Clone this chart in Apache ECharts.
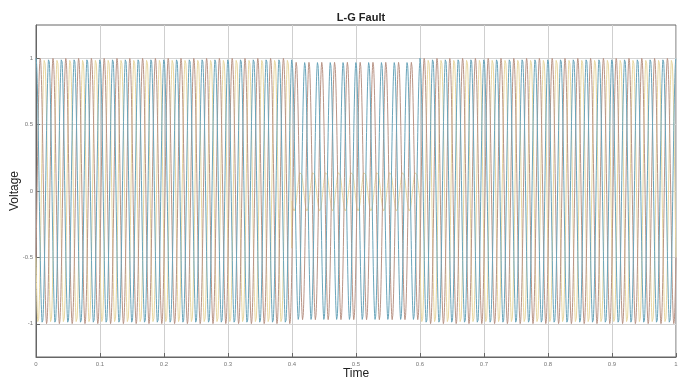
<!DOCTYPE html>
<html>
<head>
<meta charset="utf-8">
<script src="https://cdn.jsdelivr.net/npm/echarts@6/dist/echarts.min.js"></script>
<style>
  html, body { margin: 0; padding: 0; background: #fff; }
</style>
</head>
<body>
<div id="chart" style="width: 683px;height: 379px"></div>
<script>
// values
const freqHz = 50
const segmentTimes = [0, 0.4, 0.6, 1]      // pre-fault, L-G fault, post-fault
const phaseNames = ['Vc', 'Vb', 'Va']
const phaseColors = ['#e8d7a0', '#b99486', '#6aa5ba']
const phaseShiftDeg = [-150, -30, 90]
const phaseAmps = [
  [1, 0.15, 1],   // faulted phase (yellow) collapses
  [1, 0.97, 1],
  [1, 0.97, 1]
]
const yTickValues = [-1, -0.5, 0, 0.5, 1]
const samplesPerSecond = 4000

// build waveform samples
const buildPhase = (p) => {
  let pts = []
  let n = samplesPerSecond * segmentTimes[segmentTimes.length - 1]
  for (let i = 0; i <= n; i++) {
    let t = i / samplesPerSecond
    let seg = 0
    for (let s = 1; s < segmentTimes.length - 1; s++) {
      if (t >= segmentTimes[s]) seg = s
    }
    let v = phaseAmps[p][seg] * Math.sin(2 * Math.PI * freqHz * t + phaseShiftDeg[p] * Math.PI / 180)
    pts.push([t, v])
  }
  return pts
}

let series = []
for (let p = 0; p < phaseNames.length; p++) {
  series.push({
    name: phaseNames[p],
    type: 'line',
    data: buildPhase(p),
    symbol: 'none',
    animation: false,
    lineStyle: { color: phaseColors[p], width: 1 }
  })
}

let option = {
  backgroundColor: '#fff',
  title: {
    text: 'L-G Fault',
    left: 356,
    textAlign: 'center',
    top: 7,
    textStyle: { fontFamily: 'Arial', fontSize: 11, fontWeight: 'bold', color: '#222' }
  },
  grid: {
    left: 36, right: 7, top: 25, bottom: 22,
    outerBoundsMode: 'none',
    containLabel: false,
    show: true, borderColor: '#666', borderWidth: 1
  },
  xAxis: {
    type: 'value',
    min: 0, max: 1, interval: 0.1,
    name: 'Time',
    nameLocation: 'middle',
    nameGap: 11,
    nameMoveOverlap: false,
    nameTextStyle: { fontFamily: 'Arial', fontSize: 12, color: '#222' },
    axisLine: { onZero: false, lineStyle: { color: '#666' } },
    axisTick: { inside: true, length: 4, lineStyle: { color: '#666' } },
    axisLabel: { fontSize: 6, color: '#777', margin: 4 },
    splitLine: { lineStyle: { color: '#cfcfcf', width: 1 } }
  },
  yAxis: {
    type: 'value',
    min: -1.25, max: 1.25,
    name: 'Voltage',
    nameLocation: 'middle',
    nameGap: 15,
    nameMoveOverlap: false,
    nameTextStyle: { fontFamily: 'Arial', fontSize: 12, color: '#222' },
    axisLine: { show: true, onZero: false, lineStyle: { color: '#666' } },
    axisTick: { show: true, inside: true, length: 4, customValues: yTickValues, lineStyle: { color: '#666' } },
    axisLabel: { fontSize: 6, color: '#777', margin: 3, customValues: yTickValues },
    splitLine: { lineStyle: { color: '#d4d4d4', width: 1 } }
  },
  series: series
}

let chart = echarts.init(document.getElementById('chart'))
chart.setOption(option)
</script>
</body>
</html>
